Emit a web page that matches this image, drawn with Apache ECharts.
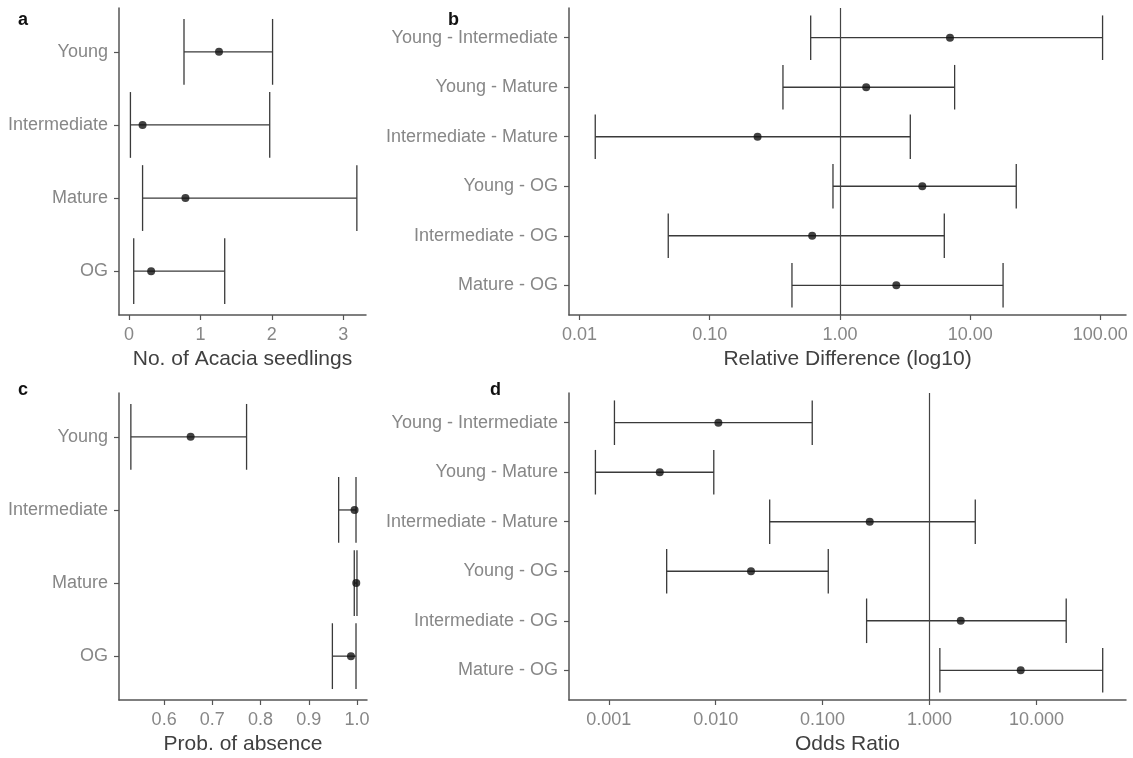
<!DOCTYPE html>
<html><head><meta charset="utf-8">
<script src="https://cdn.jsdelivr.net/npm/echarts@6/dist/echarts.min.js"></script>
<style>html,body{margin:0;padding:0;background:#fff}#c{width:1133px;height:758px}</style>
</head><body><div id="c"></div>
<script>
// ---- data ----
const habitats = ['Young', 'Intermediate', 'Mature', 'OG'];
const seedMean = [1.26, 0.19, 0.79, 0.31];
const seedLow  = [0.77, 0.02, 0.19, 0.066];
const seedHigh = [2.01, 1.97, 3.19, 1.34];
const seedTicks = [0, 1, 2, 3];

const absMean = [0.655, 0.995, 0.9985, 0.9875];
const absLow  = [0.531, 0.962, 0.9944, 0.949];
const absHigh = [0.771, 0.998, 1.0, 0.998];
const absTicks = [0.6, 0.7, 0.8, 0.9, 1.0];

const pairs = ['Young - Intermediate', 'Young - Mature', 'Intermediate - Mature', 'Young - OG', 'Intermediate - OG', 'Mature - OG'];
const rdMean = [7.0, 1.59, 0.233, 4.29, 0.612, 2.71];
const rdLow  = [0.596, 0.365, 0.0132, 0.884, 0.048, 0.428];
const rdHigh = [104, 7.6, 3.47, 22.6, 6.33, 17.9];
const rdTicks = [0.01, 0.1, 1, 10, 100];

const orMean = [0.0106, 0.0030, 0.276, 0.0214, 1.96, 7.13];
const orLow  = [0.00113, 0.00075, 0.032, 0.00348, 0.258, 1.25];
const orHigh = [0.080, 0.0096, 2.68, 0.113, 19.0, 41.7];
const orTicks = [0.001, 0.01, 0.1, 1, 10];

// ---- styling ----
const FONT = '"Liberation Sans", Arial, sans-serif';
const AXIS_COLOR = '#555';
const LABEL_COLOR = '#878787';
const TITLE_COLOR = '#404040';

const grids = [
  {left: 119, top: 8, width: 247, height: 307},
  {left: 569, top: 8, width: 557, height: 307},
  {left: 119, top: 393, width: 248, height: 307},
  {left: 569, top: 393, width: 557, height: 307}
];

function xAx(gi, type, min, max, ticks, fmt, name) {
  const ax = {
    type: type, gridIndex: gi, min: min, max: max,
    name: name, nameLocation: 'middle', nameGap: 34,
    nameTextStyle: {fontSize: 21, color: TITLE_COLOR, fontFamily: FONT},
    axisLine: {show: true, onZero: false, lineStyle: {color: AXIS_COLOR, width: 1.5}},
    axisTick: {show: true, length: 5, customValues: ticks, lineStyle: {color: AXIS_COLOR, width: 1.2}},
    axisLabel: {customValues: ticks, formatter: fmt, fontSize: 18, color: LABEL_COLOR, margin: 11, fontFamily: FONT},
    splitLine: {show: false}
  };
  if (type === 'log') ax.logBase = 10;
  return ax;
}
function yAx(gi, cats) {
  const idx = cats.map((_, i) => i);
  return {
    type: 'value', gridIndex: gi, inverse: true, min: -0.6, max: cats.length - 0.4,
    axisLine: {show: true, onZero: false, lineStyle: {color: AXIS_COLOR, width: 1.5}},
    axisTick: {show: true, length: 5, customValues: idx, lineStyle: {color: AXIS_COLOR, width: 1.2}},
    axisLabel: {customValues: idx, formatter: v => cats[Math.round(v)], fontSize: 18, color: LABEL_COLOR, margin: 11, fontFamily: FONT},
    splitLine: {show: false}
  };
}

function renderBar(params, api) {
  const lo = api.value(0), hi = api.value(1), k = api.value(2);
  const a = api.coord([lo, k]), b = api.coord([hi, k]);
  const t1 = api.coord([lo, k - 0.45]), b1 = api.coord([lo, k + 0.45]);
  const t2 = api.coord([hi, k - 0.45]), b2 = api.coord([hi, k + 0.45]);
  const style = {stroke: '#3a3a3a', lineWidth: 1.3};
  return {type: 'group', children: [
    {type: 'line', shape: {x1: a[0], y1: a[1], x2: b[0], y2: b[1]}, style: style},
    {type: 'line', shape: {x1: t1[0], y1: t1[1], x2: b1[0], y2: b1[1]}, style: style},
    {type: 'line', shape: {x1: t2[0], y1: t2[1], x2: b2[0], y2: b2[1]}, style: style}
  ]};
}

function panelSeries(gi, mean, low, high, refLine) {
  const bars = {
    type: 'custom', xAxisIndex: gi, yAxisIndex: gi, renderItem: renderBar,
    encode: {x: [0, 1], y: 2},
    data: low.map((l, i) => [l, high[i], i]), silent: true, z: 2
  };
  const pts = {
    type: 'scatter', xAxisIndex: gi, yAxisIndex: gi, symbolSize: 8,
    itemStyle: {color: '#111'}, z: 3, silent: true,
    data: mean.map((m, i) => [m, i])
  };
  if (refLine) {
    pts.markLine = {
      silent: true, symbol: ['none', 'none'], label: {show: false},
      lineStyle: {color: '#444', width: 1.2, type: 'solid'},
      data: [{xAxis: 1}]
    };
  }
  return [bars, pts];
}

const chart = echarts.init(document.getElementById('c'));
chart.setOption({
  animation: false,
  backgroundColor: '#fff',
  title: [
    {text: 'a', left: 18, top: 11},
    {text: 'b', left: 448, top: 11},
    {text: 'c', left: 18, top: 381},
    {text: 'd', left: 490, top: 381}
  ].map(t => Object.assign(t, {padding: 0, textStyle: {fontSize: 18, fontWeight: 'bold', color: '#111', fontFamily: FONT}})),
  grid: grids,
  xAxis: [
    xAx(0, 'value', -0.14, 3.318, seedTicks, v => String(Math.round(v)), 'No. of Acacia seedlings'),
    xAx(1, 'log', Math.pow(10, -2.081), Math.pow(10, 2.197), rdTicks, v => Number(v).toFixed(2), 'Relative Difference (log10)'),
    xAx(2, 'value', 0.5064, 1.0208, absTicks, v => Number(v).toFixed(1), 'Prob. of absence'),
    xAx(3, 'log', Math.pow(10, -3.372), Math.pow(10, 1.838), orTicks, v => Number(v).toFixed(3), 'Odds Ratio')
  ],
  yAxis: [yAx(0, habitats), yAx(1, pairs), yAx(2, habitats), yAx(3, pairs)],
  series: [].concat(
    panelSeries(0, seedMean, seedLow, seedHigh, false),
    panelSeries(1, rdMean, rdLow, rdHigh, true),
    panelSeries(2, absMean, absLow, absHigh, false),
    panelSeries(3, orMean, orLow, orHigh, true)
  )
});
</script>
</body></html>
